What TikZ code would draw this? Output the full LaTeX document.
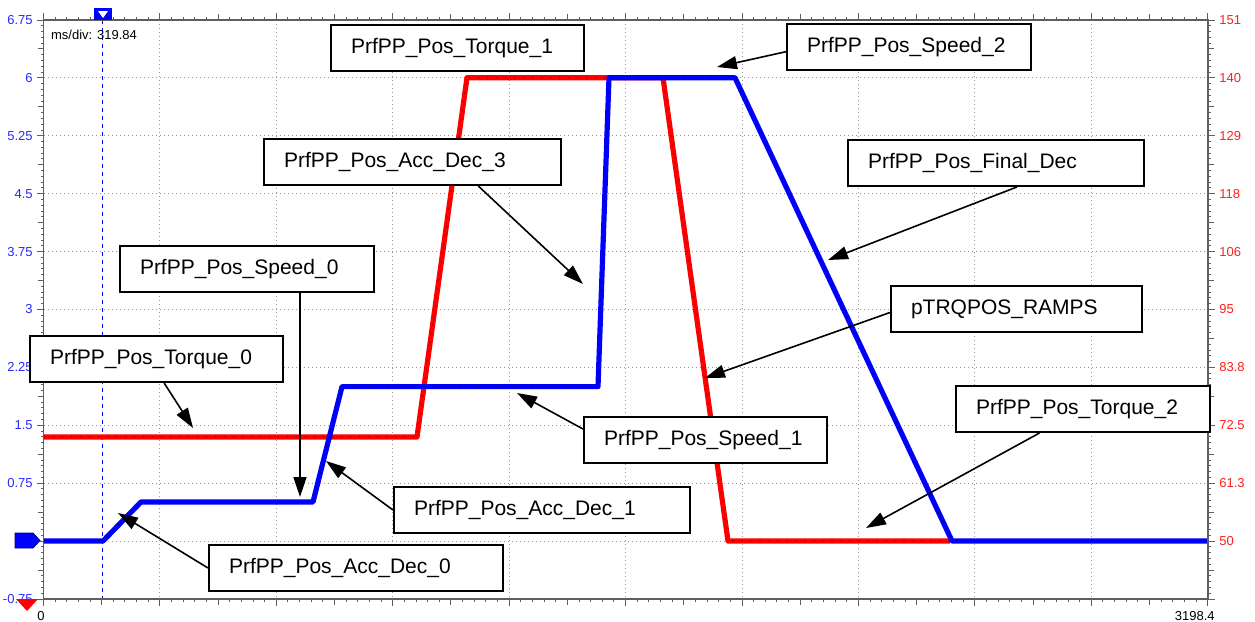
\documentclass[tikz,border=0pt]{standalone}
\usepackage{fontspec}
\setmainfont{Liberation Sans}
\usetikzlibrary{arrows.meta,calc}
\definecolor{scopeblue}{RGB}{0,0,255}
\definecolor{scopered}{RGB}{255,0,0}
\definecolor{lblblue}{RGB}{40,40,255}
\definecolor{lblred}{RGB}{255,30,30}
\definecolor{gridgray}{RGB}{150,150,150}
\definecolor{axisgray}{RGB}{95,95,95}
\tikzstyle{lbl} = [draw, line width=1pt, fill=white, anchor=north west,
    minimum height=23pt, inner xsep=10pt, align=left,
    font=\fontsize{10.5}{12}\selectfont]
\tikzstyle{ptr} = [->, line width=0.8pt]
\tikzstyle{trace} = [line width=2.6pt, line join=round]
\tikzset{
  sampledots/.style={line width=0.6pt, dash pattern=on 0.6pt off 3.9pt},
  gridline/.style={gridgray, line width=0.5pt, dash pattern=on 0.5pt off 1.5pt},
  axisline/.style={axisgray, line width=0.8pt},
  ticklbl/.style={font=\fontsize{6.5}{7}\selectfont, inner sep=0pt}
}

\begin{document}
\begin{tikzpicture}[x=0.5pt, y=-0.5pt, >={Triangle[length=10pt,width=6.5pt]}]
\useasboundingbox (0,0) rectangle (1255,622);

% grid, 10 divisions each way
\foreach \k in {1,...,9}{
  \draw[gridline] (43.5+\k*116.42,20) -- (43.5+\k*116.42,599);
  \draw[gridline] (43.5,20+\k*57.9) -- (1207.7,20+\k*57.9);
}
\draw[scopeblue, line width=0.6pt, dash pattern=on 2pt off 2pt] (102.7,20) -- (102.7,600);

% traces
\draw[trace, scopered, postaction={draw=scopered!55!black, sampledots}]
  (44,437) -- (417,437) -- (467,77.7) -- (663,77.7) -- (728,541) -- (950,541);
\draw[trace, scopeblue, postaction={draw=scopeblue!45!black, sampledots}]
  (44,541) -- (103,541) -- (141,502) -- (313,502) -- (342,386.6) -- (598,386.6)
  -- (609,77.7) -- (735,77.7) -- (952,541) -- (1207,541);

% frame and ticks
\draw[axisline] (43.5,20) rectangle (1207.7,599);
\foreach \i in {0,...,100}{
  \pgfmathsetmacro{\tx}{43.5+\i*11.642}
  \pgfmathsetmacro{\ty}{20+\i*5.79}
  \pgfmathtruncatemacro{\m}{mod(\i,10)}
  \pgfmathtruncatemacro{\h}{mod(\i,5)}
  \ifnum\m=0 \def\tl{7}\else\ifnum\h=0 \def\tl{6}\else\def\tl{3}\fi\fi
  \draw[axisline, line width=0.5pt] (\tx,20) -- ++(0,-\tl);
  \draw[axisline, line width=0.5pt] (\tx,599) -- ++(0,\tl);
  \draw[axisline, line width=0.5pt] (43.5,\ty) -- ++(-\tl,0);
  \draw[axisline, line width=0.5pt] (1207.7,\ty) -- ++(\tl,0);
}

% axis labels
\foreach \v [count=\i from 0] in {6.75,6,5.25,4.5,3.75,3,2.25,1.5,0.75}
  \node[ticklbl, lblblue, anchor=east] (lv\i) at (33,20+\i*57.9) {\v};
\node[ticklbl, lblblue, anchor=east] (lvneg) at (33,599) {-0.75};
\foreach \v [count=\i from 0] in {151,140,129,118,106,95,83.8,72.5,61.3,50}
  \node[ticklbl, lblred, anchor=west] (rv\i) at (1219,20+\i*57.9) {\v};
\node[ticklbl, anchor=north] (xzero) at (41,611) {0};
\node[ticklbl, anchor=north east] (xend) at (1215,611) {3198.4};
\node[ticklbl, anchor=west] (msdiv) at (50.7,35) {ms/div: 319.84};

% markers
\fill[scopeblue] (94,8) rectangle (112,20);
\fill[white] (98,11) -- (108,11) -- (103,18) -- cycle;
\filldraw[fill=scopeblue, draw=scopeblue!50!black, line width=0.4pt]
  (15,533) -- (33,533) -- (40,540.5) -- (33,548) -- (15,548) -- cycle;
\fill[scopered] (16,599) -- (38,599) -- (27,611) -- cycle;

% callouts
\node[lbl, text width=106.5pt] (torq1) at (330,24) {PrfPP\_Pos\_Torque\_1};
\node[lbl, text width=102pt] (spd2) at (786,23) {PrfPP\_Pos\_Speed\_2};
\node[lbl, text width=128.5pt] (acc3) at (263,138) {PrfPP\_Pos\_Acc\_Dec\_3};
\node[lbl, text width=128pt] (fdec) at (847,139) {PrfPP\_Pos\_Final\_Dec};
\node[lbl, text width=107pt] (spd0) at (119,245) {PrfPP\_Pos\_Speed\_0};
\node[lbl, text width=105.5pt] (ramps) at (890,285) {pTRQPOS\_RAMPS};
\node[lbl, text width=106.5pt] (torq0) at (29,335) {PrfPP\_Pos\_Torque\_0};
\node[lbl, text width=107pt] (torq2) at (955,385) {PrfPP\_Pos\_Torque\_2};
\node[lbl, text width=101.5pt] (spd1) at (583,416) {PrfPP\_Pos\_Speed\_1};
\node[lbl, text width=128pt] (acc1) at (393,486) {PrfPP\_Pos\_Acc\_Dec\_1};
\node[lbl, text width=127pt] (acc0) at (208,544) {PrfPP\_Pos\_Acc\_Dec\_0};

\coordinate (tspd2) at (717,67);
\coordinate (tacc3) at (583,284);
\coordinate (tfdec) at (828,260);
\coordinate (tspd0) at (300,497);
\coordinate (tramps) at (705,378);
\coordinate (ttorq0) at (193,428);
\coordinate (ttorq2) at (866,528);
\coordinate (tspd1) at (517,393);
\coordinate (tacc1) at (326,461);
\coordinate (tacc0) at (118,513);

\draw[ptr] ([yshift=-2.35pt]spd2.west) -- (tspd2);
\draw[ptr] ($(acc3.south west)!.72!(acc3.south east)$) -- (tacc3);
\draw[ptr] ($(fdec.south west)!.57!(fdec.south east)$) -- (tfdec);
\draw[ptr] (tspd0 |- spd0.south) -- (tspd0);
\draw[ptr] ([yshift=-1.75pt]ramps.west) -- (tramps);
\draw[ptr] ($(torq0.south west)!.53!(torq0.south east)$) -- (ttorq0);
\draw[ptr] ($(torq2.south west)!.33!(torq2.south east)$) -- (ttorq2);
\draw[ptr] ([yshift=5.5pt]spd1.west) -- (tspd1);
\draw[ptr] (acc1.west) -- (tacc1);
\draw[ptr] (acc0.west) -- (tacc0);
\end{tikzpicture}
\end{document}
